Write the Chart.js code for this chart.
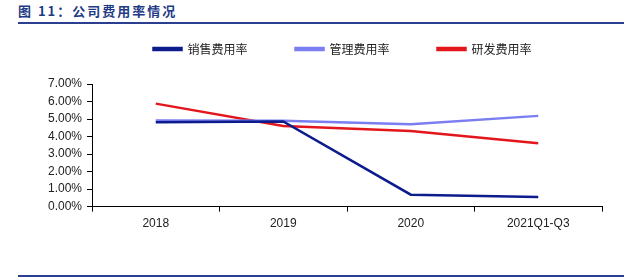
<!DOCTYPE html>
<html>
<head>
<meta charset="utf-8">
<script src="https://cdn.jsdelivr.net/npm/chart.js@4"></script>
<style>
  body { margin: 0; background: #fff; width: 640px; height: 280px; overflow: hidden; position: relative; }
  #title { position: absolute; left: 18px; top: 1px; font: bold 13px "Noto Sans CJK SC", sans-serif; color: #1f3b86; letter-spacing: 2px; }
  #topline { position: absolute; left: 18px; top: 22px; width: 606px; height: 2px; background: #2a3f8f; }
  #bottomline { position: absolute; left: 18px; top: 275px; width: 606px; height: 2px; background: #2a3f8f; }
  #wrap { position: absolute; left: 0; top: -5px; width: 640px; height: 245px; }
</style>
</head>
<body>
<div id="title">图 11：公司费用率情况</div>
<div id="topline"></div>
<div id="wrap"><canvas id="myChart"></canvas></div>
<div id="bottomline"></div>
<script>
// x-axis categories
const periods = ['2018', '2019', '2020', '2021Q1-Q3'];
// expense ratios, %
const sales = [4.82, 4.86, 0.68, 0.55];
const admin = [4.92, 4.90, 4.70, 5.18];
const rnd = [5.88, 4.60, 4.32, 3.62];

// keep the wide item spacing of the legend but not its tall box
const legendFit = {
    id: 'legendFit',
    beforeLayout(chart) {
        const lg = chart.legend;
        if (lg && !lg._fitPatched) {
            const fit = lg.fit;
            lg.fit = function () { fit.call(this); this.height = 89; };
            lg._fitPatched = true;
        }
    },
    afterLayout(chart) {
        chart.legend.left += 20;
        chart.legend.right += 20;
    }
};

const ctx = document.getElementById('myChart');
const myChart = new Chart(ctx, {
    type: 'line',
    data: {
        labels: periods,
        datasets: [
            { label: '销售费用率', data: sales, borderColor: '#0c1c8c', backgroundColor: '#0c1c8c' },
            { label: '管理费用率', data: admin, borderColor: '#7a7ef0', backgroundColor: '#7a7ef0' },
            { label: '研发费用率', data: rnd, borderColor: '#e3161c', backgroundColor: '#e3161c' }
        ]
    },
    plugins: [legendFit],
    options: {
        responsive: true,
        maintainAspectRatio: false,
        animation: false,
        layout: { padding: { left: 43, right: 38, top: 0, bottom: 4 } },
        elements: {
            line: { borderWidth: 2.5, tension: 0 },
            point: { radius: 0 }
        },
        plugins: {
            tooltip: { enabled: false },
            legend: {
                position: 'top',
                labels: {
                    boxWidth: 28,
                    boxHeight: 2,
                    padding: 48,
                    color: '#222',
                    font: { family: '"Noto Sans CJK SC", sans-serif', size: 12 }
                }
            }
        },
        scales: {
            x: {
                offset: true,
                grid: { offset: true, drawOnChartArea: false, drawTicks: true, tickLength: 5, color: '#000' },
                border: { display: true, color: '#000', width: 1 },
                ticks: { color: '#222', padding: 5, autoSkip: false, maxRotation: 0, font: { family: 'Liberation Sans, Arial', size: 12 } }
            },
            y: {
                min: 0,
                max: 7,
                grid: { drawOnChartArea: false, drawTicks: true, tickLength: 5, color: '#000' },
                border: { display: true, color: '#000', width: 1 },
                ticks: {
                    stepSize: 1,
                    autoSkip: false,
                    color: '#222',
                    padding: 5,
                    font: { family: 'Liberation Sans, Arial', size: 12 },
                    callback: v => v.toFixed(2) + '%'
                }
            }
        }
    }
});
</script>
</body>
</html>
